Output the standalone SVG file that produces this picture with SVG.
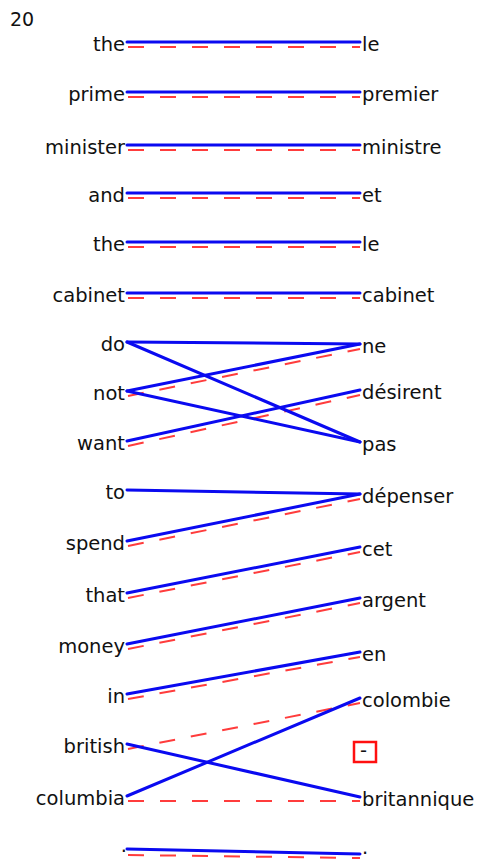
<svg xmlns="http://www.w3.org/2000/svg" width="479" height="859" viewBox="0 0 479 859">
<style>
text{font-family:"DejaVu Sans",sans-serif;font-size:19.5px;fill:#111}
.l{text-anchor:end}
.b{stroke:#0a0af0;stroke-width:3;fill:none;stroke-linecap:round}
.r{stroke:#ff3c3c;stroke-width:2;fill:none;stroke-dasharray:16 16}
</style>
<rect width="479" height="859" fill="#fff"/>
<text id="title" x="10" y="26" style="font-size:19px">20</text>
<g id="source">
<text class="l" x="125" y="51">the</text>
<text class="l" x="125" y="101">prime</text>
<text class="l" x="125" y="154">minister</text>
<text class="l" x="125" y="202">and</text>
<text class="l" x="125" y="251">the</text>
<text class="l" x="125" y="302">cabinet</text>
<text class="l" x="125" y="351">do</text>
<text class="l" x="125" y="400">not</text>
<text class="l" x="125" y="450">want</text>
<text class="l" x="125" y="499">to</text>
<text class="l" x="125" y="550">spend</text>
<text class="l" x="125" y="602">that</text>
<text class="l" x="125" y="653">money</text>
<text class="l" x="125" y="703">in</text>
<text class="l" x="125" y="753">british</text>
<text class="l" x="125" y="805">columbia</text>
<text class="l" x="127" y="852">.</text>
</g>
<g id="target">
<text x="362" y="51">le</text>
<text x="362" y="101">premier</text>
<text x="362" y="154">ministre</text>
<text x="362" y="202">et</text>
<text x="362" y="251">le</text>
<text x="362" y="302">cabinet</text>
<text x="362" y="353">ne</text>
<text x="362" y="399">désirent</text>
<text x="362" y="451">pas</text>
<text x="362" y="503">dépenser</text>
<text x="362" y="556">cet</text>
<text x="362" y="607">argent</text>
<text x="362" y="661">en</text>
<text x="362" y="707">colombie</text>
<g id="unaligned"><rect x="354" y="742" width="22" height="20" fill="none" stroke="#ff1010" stroke-width="2.5"/><text x="360" y="757">-</text></g>
<text x="362" y="806">britannique</text>
<text x="362" y="854">.</text>
</g>
<g id="connectors">
<g id="reference">
<line class="r" x1="128" y1="47" x2="360" y2="47"/>
<line class="r" x1="128" y1="97" x2="360" y2="97"/>
<line class="r" x1="128" y1="150" x2="360" y2="150"/>
<line class="r" x1="128" y1="198" x2="360" y2="198"/>
<line class="r" x1="128" y1="247" x2="360" y2="247"/>
<line class="r" x1="128" y1="298" x2="360" y2="298"/>
<line class="r" x1="128" y1="396" x2="360" y2="349"/>
<line class="r" x1="128" y1="446" x2="360" y2="395"/>
<line class="r" x1="128" y1="546" x2="360" y2="499"/>
<line class="r" x1="128" y1="598" x2="360" y2="552"/>
<line class="r" x1="128" y1="649" x2="360" y2="603"/>
<line class="r" x1="128" y1="699" x2="360" y2="657"/>
<line class="r" x1="128" y1="749" x2="360" y2="703"/>
<line class="r" x1="128" y1="801" x2="360" y2="801"/>
<line class="r" x1="128" y1="855" x2="360" y2="858"/>
</g>
<g id="alignment">
<line class="b" x1="127" y1="42" x2="360" y2="42"/>
<line class="b" x1="127" y1="92" x2="360" y2="92"/>
<line class="b" x1="127" y1="145" x2="360" y2="145"/>
<line class="b" x1="127" y1="193" x2="360" y2="193"/>
<line class="b" x1="127" y1="242" x2="360" y2="242"/>
<line class="b" x1="127" y1="293" x2="360" y2="293"/>
<line class="b" x1="127" y1="342" x2="360" y2="344"/>
<line class="b" x1="127" y1="342" x2="360" y2="442"/>
<line class="b" x1="127" y1="391" x2="360" y2="344"/>
<line class="b" x1="127" y1="391" x2="360" y2="442"/>
<line class="b" x1="127" y1="441" x2="360" y2="390"/>
<line class="b" x1="127" y1="490" x2="360" y2="494"/>
<line class="b" x1="127" y1="541" x2="360" y2="494"/>
<line class="b" x1="127" y1="593" x2="360" y2="547"/>
<line class="b" x1="127" y1="644" x2="360" y2="598"/>
<line class="b" x1="127" y1="694" x2="360" y2="652"/>
<line class="b" x1="127" y1="744" x2="360" y2="797"/>
<line class="b" x1="127" y1="796" x2="360" y2="698"/>
<line class="b" x1="127" y1="849" x2="360" y2="854"/>
</g>
</g>
</svg>
